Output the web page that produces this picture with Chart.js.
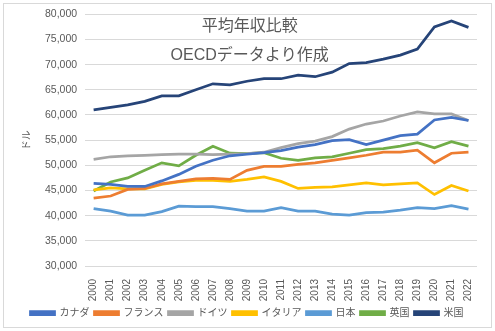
<!DOCTYPE html>
<html>
<head>
<meta charset="utf-8">
<script src="https://cdn.jsdelivr.net/npm/chart.js@4"></script>
<style>
  body { margin: 0; background: #fff; }
  #wrap { position: absolute; left: 3px; top: 3px; width: 487px; height: 323px; border: 1px solid #d9d9d9; }
  #chart { position: absolute; left: -4px; top: -4px; }
</style>
</head>
<body>
<div id="wrap"><canvas id="chart" width="495" height="331"></canvas></div>
<script>
let years = ['2000','2001','2002','2003','2004','2005','2006','2007','2008','2009','2010',
    '2011','2012','2013','2014','2015','2016','2017','2018','2019','2020','2021','2022'];

let canada = [46400, 46200, 45800, 45800, 46900, 48200, 49800, 51000, 51900, 52200, 52500,
    52900, 53600, 54100, 54900, 55100, 54100, 55000, 55900, 56200, 59000, 59500, 58900];
let france = [43500, 43900, 45200, 45400, 46300, 46800, 47300, 47400, 47200, 49000, 49800,
    49800, 50200, 50500, 51000, 51500, 52000, 52600, 52600, 53000, 50500, 52400, 52600];
let germany = [51200, 51700, 51900, 52000, 52100, 52200, 52200, 52100, 52200, 52300, 52600,
    53500, 54300, 54800, 55700, 57200, 58200, 58800, 59800, 60600, 60200, 60200, 58900];
let italy = [45100, 45500, 45300, 45300, 46200, 46700, 47000, 47000, 46800, 47200, 47700,
    46800, 45400, 45600, 45700, 46100, 46500, 46100, 46300, 46500, 44200, 46000, 44900];
let japan = [41400, 40900, 40100, 40100, 40800, 41900, 41800, 41800, 41400, 40900, 40900,
    41600, 40900, 40900, 40300, 40100, 40600, 40700, 41100, 41600, 41400, 42000, 41300];
let uk = [44900, 46700, 47500, 49000, 50500, 49900, 52000, 53800, 52400, 52300, 52500,
    51400, 51000, 51500, 51700, 52400, 53100, 53300, 53800, 54500, 53500, 54700, 53800];
let usa = [61000, 61500, 62000, 62700, 63800, 63800, 65000, 66200, 66000, 66700, 67200,
    67200, 67900, 67600, 68500, 70200, 70400, 71100, 71900, 73100, 77500, 78700, 77400];

let seriesNames = ['カナダ', 'フランス', 'ドイツ', 'イタリア', '日本', '英国', '米国'];
let seriesColors = ['#4472C4', '#ED7D31', '#A5A5A5', '#FFC000', '#5B9BD5', '#70AD47', '#264478'];
let seriesData = [canada, france, germany, italy, japan, uk, usa];

let titleLines = ['平均年収比較', 'OECDデータより作成'];

const FONT = "'Liberation Sans', 'Noto Sans CJK JP', sans-serif";
const GREY = '#595959';

// text boxes drawn inside the plot area, like the Excel chart
const innerTitle = {
    id: 'innerTitle',
    afterDraw(chart) {
        let ctx = chart.ctx;
        let area = chart.chartArea;
        ctx.save();
        ctx.fillStyle = GREY;
        ctx.font = '16px ' + FONT;
        ctx.textAlign = 'center';
        ctx.textBaseline = 'middle';
        let cx = area.left + (area.right - area.left) * 0.42;
        ctx.fillText(titleLines[0], cx, area.top + 12);
        ctx.fillText(titleLines[1], cx, area.top + 41);
        ctx.restore();
    }
};

let datasets = seriesNames.map((name, i) => ({
    label: name,
    data: seriesData[i],
    borderColor: seriesColors[i],
    backgroundColor: seriesColors[i],
    borderWidth: 2.75,
    pointRadius: 0,
    tension: 0,
    fill: false
}));

new Chart(document.getElementById('chart'), {
    type: 'line',
    data: { labels: years, datasets: datasets },
    plugins: [innerTitle],
    options: {
        responsive: false,
        animation: false,
        layout: { padding: { top: 12, right: 18, left: 17, bottom: 3 } },
        plugins: {
            legend: {
                position: 'bottom',
                labels: {
                    boxWidth: 24,
                    boxHeight: 3,
                    padding: 5,
                    color: GREY,
                    font: { family: FONT, size: 10 }
                }
            },
            tooltip: { enabled: false }
        },
        scales: {
            x: {
                offset: true,
                grid: { display: false },
                border: { display: false },
                afterFit: scale => { scale.height = 37; },
                ticks: {
                    color: GREY,
                    font: { family: FONT, size: 10 },
                    minRotation: 90,
                    maxRotation: 90,
                    autoSkip: false,
                    padding: 5
                }
            },
            y: {
                min: 30000,
                max: 80000,
                grid: { color: '#D9D9D9', drawTicks: false, lineWidth: 1 },
                border: { display: false },
                title: {
                    display: true,
                    text: 'ドル',
                    color: GREY,
                    font: { family: FONT, size: 10 }
                },
                ticks: {
                    stepSize: 5000,
                    color: GREY,
                    padding: 8,
                    font: { family: FONT, size: 10.5 },
                    callback: v => v.toLocaleString('en-US')
                }
            }
        }
    }
});
</script>
</body>
</html>
